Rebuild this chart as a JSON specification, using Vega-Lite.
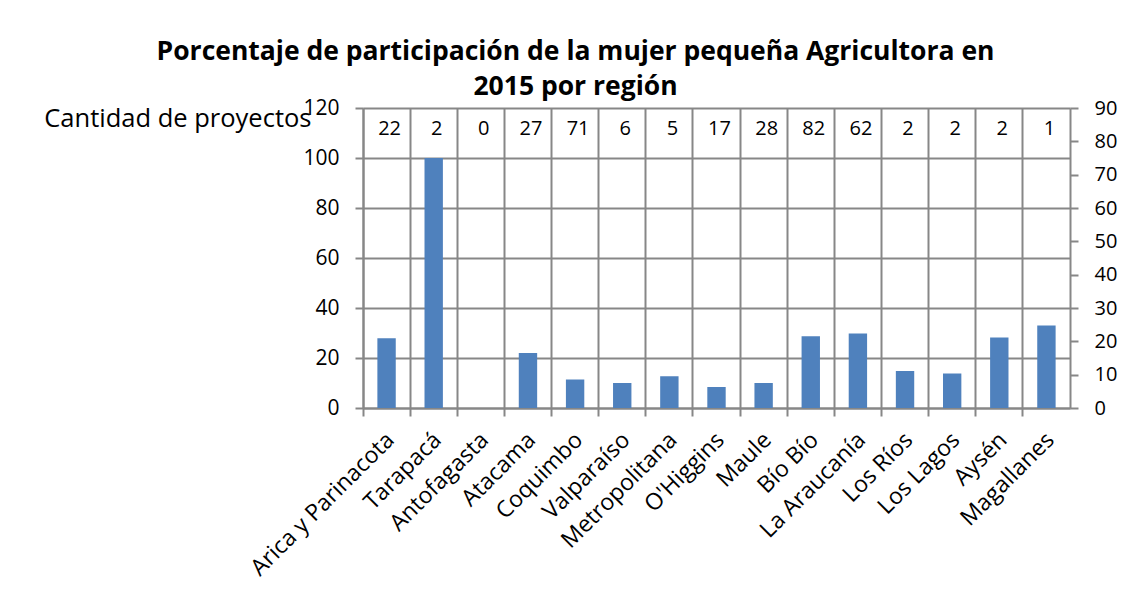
{
  "$schema": "https://vega.github.io/schema/vega-lite/v6.json",
  "autosize": {"type": "none"},
  "padding": {"left": 363, "top": 108, "right": 58, "bottom": 182},
  "width": 707,
  "height": 300,
  "background": "white",
  "title": {
    "text": ["Porcentaje de participación de la mujer pequeña Agricultora en", "2015 por región"],
    "font": "Open Sans",
    "fontSize": 26.5,
    "fontWeight": "bold",
    "color": "#000000",
    "anchor": "middle",
    "frame": "group",
    "dx": -141,
    "offset": -3,
    "lineHeight": 35
  },
  "data": {
    "values": [
      {"region": "Arica y Parinacota", "pct": 27.9, "n": 22},
      {"region": "Tarapacá", "pct": 100, "n": 2},
      {"region": "Antofagasta", "pct": 0, "n": 0},
      {"region": "Atacama", "pct": 22, "n": 27},
      {"region": "Coquimbo", "pct": 11.4, "n": 71},
      {"region": "Valparaíso", "pct": 10, "n": 6},
      {"region": "Metropolitana", "pct": 12.7, "n": 5},
      {"region": "O'Higgins", "pct": 8.4, "n": 17},
      {"region": "Maule", "pct": 10, "n": 28},
      {"region": "Bío Bío", "pct": 28.7, "n": 82},
      {"region": "La Araucanía", "pct": 29.8, "n": 62},
      {"region": "Los Ríos", "pct": 14.8, "n": 2},
      {"region": "Los Lagos", "pct": 13.8, "n": 2},
      {"region": "Aysén", "pct": 28.2, "n": 2},
      {"region": "Magallanes", "pct": 33, "n": 1}
    ]
  },
  "encoding": {
    "x": {
      "field": "region",
      "type": "nominal",
      "sort": null,
      "scale": {"paddingInner": 0.61, "paddingOuter": 0.305},
      "axis": {
        "title": null,
        "orient": "bottom",
        "bandPosition": -0.782,
        "grid": true,
        "gridColor": "#878787",
        "gridWidth": 2,
        "gridOpacity": 1,
        "domainColor": "#878787",
        "domainWidth": 2,
        "tickColor": "#878787",
        "tickWidth": 2,
        "tickSize": 8,
        "labelAngle": -45,
        "labelAlign": "right",
        "labelBaseline": "middle",
        "labelPadding": 20,
        "labelOffset": 4,
        "labelFont": "Open Sans",
        "labelFontSize": 23,
        "labelColor": "#000000",
        "labelLimit": 300
      }
    }
  },
  "layer": [
    {
      "mark": {"type": "bar", "color": "#4F81BD"},
      "encoding": {
        "y": {
          "field": "pct",
          "type": "quantitative",
          "scale": {"domain": [0, 120], "nice": false},
          "axis": {
            "orient": "left",
            "values": [0, 20, 40, 60, 80, 100, 120],
            "grid": true,
            "gridColor": "#878787",
            "gridWidth": 2,
            "gridOpacity": 1,
            "domainColor": "#878787",
            "domainWidth": 2,
            "tickColor": "#878787",
            "tickWidth": 2,
            "tickSize": 8,
            "labelPadding": 16,
            "labelFont": "Open Sans",
            "labelFontSize": 21,
            "labelColor": "#000000",
            "title": "Cantidad de proyectos",
            "titleAngle": 0,
            "titleAlign": "right",
            "titleBaseline": "alphabetic",
            "titleX": -52,
            "titleY": 18,
            "titleFont": "Open Sans",
            "titleFontSize": 25.5,
            "titleFontWeight": "normal",
            "titleColor": "#000000"
          }
        }
      }
    },
    {
      "mark": {"type": "text", "font": "Open Sans", "fontSize": 20, "color": "#000000", "baseline": "alphabetic", "align": "center", "dx": 3},
      "encoding": {
        "text": {"field": "n", "type": "quantitative"},
        "y": {
          "datum": 81.9,
          "type": "quantitative",
          "scale": {"domain": [0, 90], "nice": false},
          "axis": {
            "orient": "right",
            "title": null,
            "values": [0, 10, 20, 30, 40, 50, 60, 70, 80, 90],
            "grid": false,
            "domainColor": "#878787",
            "domainWidth": 2,
            "tickColor": "#878787",
            "tickWidth": 2,
            "tickSize": 8,
            "labelPadding": 16,
            "labelFont": "Open Sans",
            "labelFontSize": 20,
            "labelColor": "#000000"
          }
        }
      }
    }
  ],
  "resolve": {"scale": {"y": "independent"}},
  "config": {"view": {"stroke": null}}
}
